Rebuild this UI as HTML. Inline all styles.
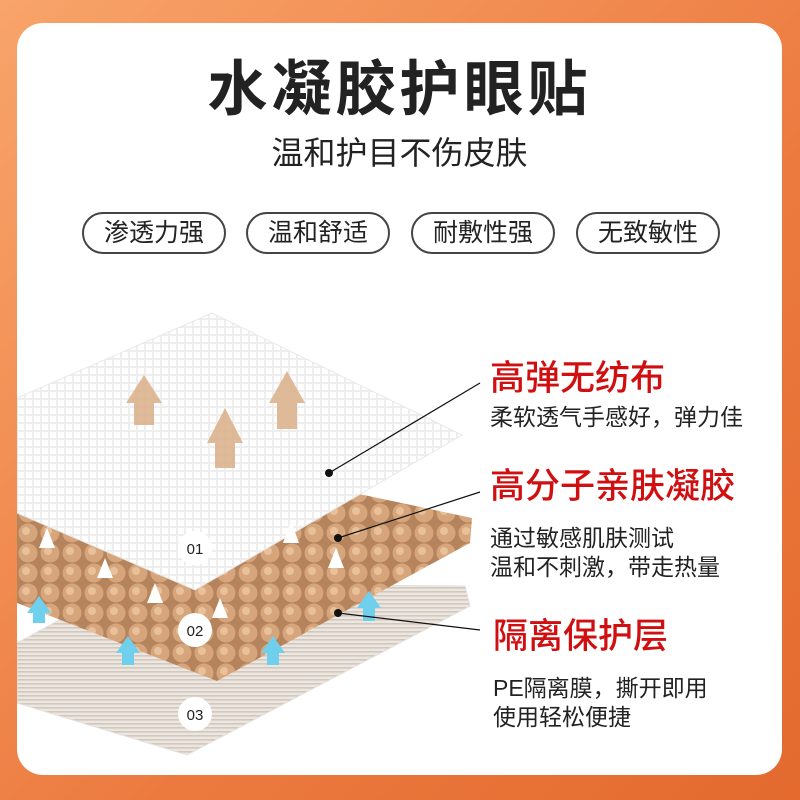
<!DOCTYPE html>
<html><head><meta charset="utf-8"><style>
body{margin:0;width:800px;height:800px;overflow:hidden;background:linear-gradient(135deg,#f8a46a,#ec7a3f 60%,#e46a2e);font-family:"Liberation Sans","Noto Sans CJK SC",sans-serif;position:relative}
.card{position:absolute;left:17px;top:23px;width:765px;height:752px;background:#fff;border-radius:26px;overflow:hidden}
.t{position:absolute;white-space:nowrap}
.pill{position:absolute;top:189px;height:38px;width:140px;border:2px solid #444;border-radius:21px;font-size:25px;color:#222;text-align:center;line-height:38px}
.red{color:#d01010;font-size:35px;font-weight:500}
.sub{color:#222;font-size:23px}
</style></head><body>
<div class="card">
<svg width="765" height="752" style="position:absolute;left:0;top:0">
<defs>
<pattern id="g" width="8" height="8" patternUnits="userSpaceOnUse"><rect width="8" height="8" fill="#eeeeee"/><rect x="1" y="1" width="6" height="6" fill="#fff"/></pattern>
<pattern id="b" width="22" height="20" patternUnits="userSpaceOnUse"><rect width="22" height="20" fill="#b5845c"/><circle cx="11" cy="10" r="9.5" fill="#d6a57c"/><circle cx="9" cy="8" r="4" fill="#e8c09a"/></pattern>
<pattern id="s" width="4" height="4" patternUnits="userSpaceOnUse"><rect width="4" height="4" fill="#ece6e0"/><rect width="4" height="1.6" fill="#d2c8be"/></pattern>
</defs>
<polygon points="0,620 110,560 448,563 453,583 170,732 0,680" fill="url(#s)" stroke="#e5e0da"/>
<polygon points="0,470 150,430 455,495 453,520 200,658 0,580" fill="url(#b)"/>
<polygon points="0,375 195,290 445,412 178,567 0,490" fill="url(#g)" stroke="#e8e8e8"/>
<g fill="#dcb38e" opacity="0.9">
<polygon points="109,380 127,352 145,380 137,380 137,402 117,402 117,380"/>
<polygon points="190,420 208,385 226,420 218,420 218,445 198,445 198,420"/>
<polygon points="252,380 270,348 288,380 280,380 280,406 260,406 260,380"/>
</g>
<g fill="#fff">
<polygon points="22,525 30,505 38,525"/><polygon points="80,555 88,535 96,555"/><polygon points="130,580 138,560 146,580"/><polygon points="195,595 203,575 211,595"/><polygon points="266,520 274,498 282,520"/><polygon points="311,545 319,525 327,545"/>
</g>
<g fill="#6fd0ee">
<polygon points="10,590 22,573 34,590 28,590 28,600 16,600 16,590"/><polygon points="99,630 111,613 123,630 117,630 117,642 105,642 105,630"/><polygon points="244,630 256,613 268,630 262,630 262,642 250,642 250,630"/><polygon points="340,585 352,568 364,585 358,585 358,598 346,598 346,585"/>
</g>
<g font-size="15" fill="#222" text-anchor="middle"><circle cx="178" cy="525" r="17" fill="#fff"/><text x="178" y="531">01</text>
<circle cx="178" cy="607" r="17" fill="#fff"/><text x="178" y="613">02</text>
<circle cx="178" cy="691" r="17" fill="#fff"/><text x="178" y="697">03</text></g>
<g stroke="#111" stroke-width="1.2"><line x1="312" y1="450" x2="463" y2="360"/><line x1="321" y1="515" x2="463" y2="469"/><line x1="321" y1="590" x2="463" y2="607"/></g>
<g fill="#111"><circle cx="312" cy="450" r="4"/><circle cx="321" cy="515" r="4"/><circle cx="321" cy="590" r="4"/></g>
</svg>
<div class="t" style="left:0;width:765px;text-align:center;top:18px;font-size:60px;font-weight:bold;color:#222;letter-spacing:4px">水凝胶护眼贴</div>
<div class="t" style="left:0;width:765px;text-align:center;top:105px;font-size:32px;color:#222">温和护目不伤皮肤</div>
<div class="pill" style="left:65px">渗透力强</div>
<div class="pill" style="left:229px">温和舒适</div>
<div class="pill" style="left:394px">耐敷性强</div>
<div class="pill" style="left:559px">无致敏性</div>
<div class="t red" style="left:473px;top:327px">高弹无纺布</div>
<div class="t sub" style="left:473px;top:375px">柔软透气手感好，弹力佳</div>
<div class="t red" style="left:473px;top:435px">高分子亲肤凝胶</div>
<div class="t sub" style="left:473px;top:496px">通过敏感肌肤测试</div>
<div class="t sub" style="left:473px;top:525px">温和不刺激，带走热量</div>
<div class="t red" style="left:476px;top:585px">隔离保护层</div>
<div class="t sub" style="left:476px;top:646px">PE隔离膜，撕开即用</div>
<div class="t sub" style="left:476px;top:675px">使用轻松便捷</div>
</div>
</body></html>
